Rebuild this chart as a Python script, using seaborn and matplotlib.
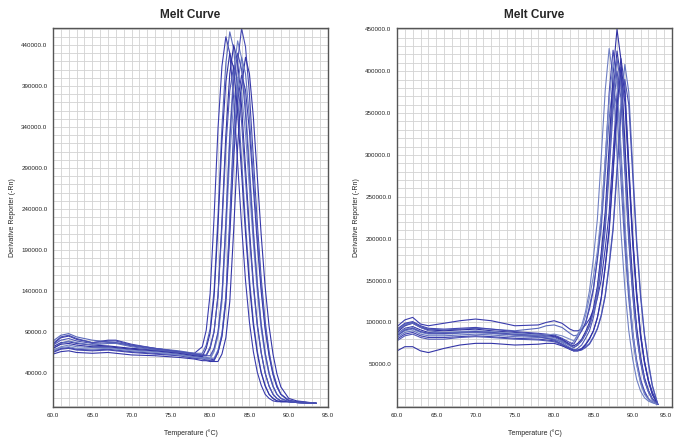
"""
Melt curve panels (two plates), redrawn with seaborn
"""

import pandas as pd
import matplotlib
matplotlib.use("Agg")
import matplotlib.pyplot as plt
from matplotlib.ticker import MultipleLocator, FormatStrFormatter
import seaborn as sns

# ---- data (derivative reporter values in thousands) ----
temps_left = [60, 61, 62, 63, 65, 67, 68, 70, 73, 76, 78, 79,
              79.5, 80, 80.5, 81, 81.5, 82, 82.5, 83, 83.5, 84, 84.5, 85, 85.5,
              86, 86.5, 87, 87.5, 88, 88.5, 89, 90, 91, 93.5]

left_curves = [
    [75, 83, 85, 81, 77, 80, 80, 75, 70, 66, 64, 72,
     92, 137, 230, 338, 414, 450, 430, 373, 296, 220, 153, 102, 66, 41, 25, 14, 9, 6, 5, 5, 5, 4, 3],
    [79, 86, 88, 84, 80, 78, 77, 74, 70, 67, 64, 64,
     74, 94, 140, 232, 340, 418, 456, 435, 378, 300, 222, 155, 103, 67, 41, 25, 14, 9, 6, 5, 5, 4, 3],
    [72, 77, 78, 76, 74, 73, 72, 70, 68, 65, 62, 61,
     61, 70, 90, 135, 225, 330, 405, 440, 420, 365, 290, 215, 150, 100, 65, 40, 24, 14, 9, 6, 5, 4, 3],
    [68, 72, 74, 72, 71, 71, 70, 68, 66, 63, 60, 59,
     58, 58, 68, 88, 133, 225, 332, 408, 445, 424, 368, 292, 216, 151, 100, 65, 40, 24, 14, 9, 5, 4, 3],
    [65, 69, 70, 68, 67, 68, 67, 65, 63, 61, 58, 57,
     56, 55, 55, 65, 86, 133, 228, 340, 420, 460, 438, 380, 302, 223, 155, 103, 66, 41, 25, 14, 7, 5, 3],
    [63, 66, 67, 65, 64, 65, 64, 62, 61, 59, 57, 55,
     55, 54, 54, 54, 63, 83, 127, 215, 316, 390, 425, 405, 352, 280, 208, 145, 97, 63, 39, 23, 9, 6, 3],
    [70, 76, 79, 77, 74, 76, 76, 72, 68, 65, 62, 60,
     59, 58, 58, 68, 88, 132, 218, 320, 392, 425, 405, 352, 280, 208, 145, 97, 63, 39, 23, 14, 6, 5, 3],
    [66, 70, 71, 69, 68, 69, 68, 66, 64, 62, 59, 58,
     57, 57, 56, 65, 84, 126, 207, 303, 372, 403, 385, 335, 266, 198, 139, 93, 61, 38, 23, 14, 6, 5, 3],
    [74, 80, 82, 79, 76, 77, 77, 73, 69, 66, 63, 62,
     62, 72, 91, 133, 217, 315, 384, 415, 397, 346, 276, 206, 145, 97, 64, 40, 24, 14, 9, 6, 5, 4, 3],
    [67, 71, 72, 70, 69, 70, 69, 67, 65, 62, 59, 58,
     57, 57, 66, 85, 126, 208, 305, 372, 400, 382, 332, 265, 198, 139, 93, 61, 38, 23, 14, 9, 5, 4, 3],
    [70, 75, 76, 74, 72, 72, 71, 69, 67, 64, 61, 60,
     70, 89, 133, 220, 322, 395, 430, 411, 357, 284, 211, 147, 98, 64, 40, 24, 14, 9, 6, 5, 5, 4, 3],
    [76, 84, 86, 82, 77, 79, 79, 74, 70, 66, 63, 62,
     61, 61, 70, 90, 134, 222, 325, 397, 430, 410, 356, 283, 210, 147, 98, 64, 40, 24, 14, 9, 5, 4, 3],
]

temps_right = [60, 61, 62, 63, 64, 66, 68, 70, 72, 75, 78, 79, 80, 81, 82,
               82.5, 83, 83.5, 84, 84.5, 85, 85.5, 86, 86.5, 87, 87.5, 88, 88.5,
               89, 89.5, 90, 90.5, 91, 91.5, 92, 92.5, 93.2]

right_curves = [
    [95, 103, 106, 98, 96, 99, 102, 104, 102, 96, 97, 100, 102, 99, 92,
     90, 90, 92, 97, 104, 114, 129, 151, 188, 231, 301, 372, 415, 382, 290, 203, 137, 87, 54, 31, 17, 2],
    [90, 98, 100, 95, 92, 91, 92, 93, 92, 90, 93, 96, 97, 94, 87,
     84, 85, 90, 98, 120, 141, 174, 213, 277, 343, 385, 354, 270, 189, 127, 81, 50, 29, 16, 8, 5, 2],
    [88, 96, 99, 94, 91, 90, 91, 92, 90, 88, 86, 85, 84, 80, 74,
     72, 75, 80, 89, 100, 117, 143, 184, 232, 310, 397, 450, 414, 315, 221, 149, 95, 59, 34, 19, 9, 2],
    [84, 90, 92, 88, 86, 86, 87, 88, 87, 85, 83, 82, 80, 77, 73,
     77, 86, 96, 113, 138, 177, 223, 298, 377, 427, 393, 299, 209, 141, 90, 56, 32, 18, 10, 6, 4, 2],
    [92, 99, 101, 96, 93, 92, 93, 94, 92, 89, 87, 86, 85, 81, 76,
     74, 82, 90, 100, 116, 139, 177, 225, 293, 374, 425, 391, 298, 208, 140, 89, 55, 32, 18, 9, 5, 2],
    [86, 93, 95, 91, 88, 87, 88, 89, 88, 86, 85, 84, 83, 79, 73,
     70, 73, 78, 86, 96, 113, 139, 177, 222, 296, 375, 424, 390, 297, 208, 140, 89, 55, 32, 18, 8, 2],
    [82, 88, 90, 86, 84, 84, 85, 86, 85, 83, 82, 81, 80, 76, 70,
     68, 67, 68, 71, 75, 83, 93, 109, 133, 170, 214, 285, 360, 408, 375, 286, 200, 135, 86, 53, 25, 2],
    [80, 86, 88, 84, 82, 82, 83, 84, 83, 81, 80, 79, 78, 74, 69,
     67, 67, 69, 74, 81, 90, 105, 129, 165, 208, 277, 349, 395, 363, 277, 194, 130, 83, 51, 30, 14, 2],
    [78, 84, 86, 82, 80, 80, 82, 83, 82, 80, 79, 78, 77, 73, 68,
     66, 69, 73, 81, 90, 106, 130, 167, 210, 279, 353, 400, 368, 280, 196, 132, 84, 52, 30, 17, 8, 2],
    [86, 92, 94, 89, 87, 88, 89, 90, 89, 87, 85, 85, 86, 84, 80,
     78, 84, 93, 108, 130, 155, 185, 230, 295, 365, 410, 385, 310, 220, 145, 88, 50, 27, 14, 8, 5, 2],
    [66, 71, 71, 66, 64, 69, 73, 75, 75, 73, 74, 75, 75, 72, 68,
     66, 66, 68, 73, 80, 90, 106, 130, 168, 212, 283, 358, 405, 373, 284, 198, 134, 85, 53, 30, 14, 2],
    [84, 91, 93, 89, 87, 87, 88, 89, 88, 85, 83, 81, 79, 74, 68,
     66, 66, 67, 70, 74, 82, 92, 108, 131, 167, 210, 278, 348, 390, 360, 275, 193, 130, 84, 50, 24, 2],
    [90, 97, 99, 94, 90, 88, 88, 88, 87, 85, 84, 83, 82, 78, 72,
     70, 73, 78, 86, 96, 112, 137, 174, 218, 290, 367, 415, 382, 290, 203, 137, 87, 54, 31, 17, 8, 2],
]

x_ticks = [60, 65, 70, 75, 80, 85, 90, 95]
left_yticks = [40000, 90000, 140000, 190000, 240000, 290000, 340000, 390000, 440000]
right_yticks = [50000, 100000, 150000, 200000, 250000, 300000, 350000, 400000, 450000]

title = "Melt Curve"
x_label = "Temperature (°C)"
y_label = "Derivative Reporter (-Rn)"

# line shades of the instrument software
shades = ['#3a3cad', '#5a68bb', '#2f30a2', '#7080c4', '#4448b2', '#3436a8',
          '#6272bf', '#3c3eae', '#5058b6', '#7a8ac8', '#3234a6', '#4a50b4', '#5c66ba']


def to_frame(temps, curves):
    rows = []
    for i, vals in enumerate(curves):
        for t, v in zip(temps, vals):
            rows.append((i, t, v * 1000))
    return pd.DataFrame(rows, columns=['curve', 'temp', 'deriv'])


def style_axis(ax, yticks, ylim):
    ax.set_xlim(60, 95)
    ax.set_ylim(*ylim)
    ax.set_xticks(x_ticks)
    ax.set_yticks(yticks)
    ax.xaxis.set_minor_locator(MultipleLocator(1))
    ax.yaxis.set_minor_locator(MultipleLocator(10000))
    ax.xaxis.set_major_formatter(FormatStrFormatter('%.1f'))
    ax.yaxis.set_major_formatter(FormatStrFormatter('%.1f'))
    ax.grid(True, which='both', color='#d2d2d2', linewidth=0.6)
    ax.set_axisbelow(True)
    ax.tick_params(which='both', labelsize=4.5, length=2, width=0.6,
                   color='#444444', labelcolor='#222222', pad=2)
    for sp in ax.spines.values():
        sp.set_color('#555555')
        sp.set_linewidth(1.0)
    ax.set_title(title, fontsize=8.5, fontweight='bold', pad=7)
    ax.set_xlabel(x_label, fontsize=5)
    ax.set_ylabel(y_label, fontsize=5)
    ax.xaxis.set_label_coords(0.5, -0.058)
    ax.yaxis.set_label_coords(-0.135, 0.5)


sns.set_style("white")
plt.rcParams['font.family'] = ['Liberation Sans', 'DejaVu Sans']

fig = plt.figure(figsize=(6.74, 4.37), dpi=100)
ax_l = fig.add_axes([53 / 674, 30 / 437, 275 / 674, 379 / 437])
ax_r = fig.add_axes([397 / 674, 30 / 437, 275 / 674, 379 / 437])

df_l = to_frame(temps_left, left_curves)
df_r = to_frame(temps_right, right_curves)

sns.lineplot(data=df_l, x='temp', y='deriv', hue='curve', units='curve', estimator=None,
             palette=shades[:len(left_curves)], linewidth=0.8, legend=False, ax=ax_l)
sns.lineplot(data=df_r, x='temp', y='deriv', hue='curve', units='curve', estimator=None,
             palette=shades[:len(right_curves)], linewidth=0.8, legend=False, ax=ax_r)

style_axis(ax_l, left_yticks, (-1500, 460700))
style_axis(ax_r, right_yticks, (-1000, 451500))

# last x label on the right plate sits against the image edge
ax_r.get_xticklabels()[-1].set_horizontalalignment('right')

fig.savefig('out.png', dpi=100)
